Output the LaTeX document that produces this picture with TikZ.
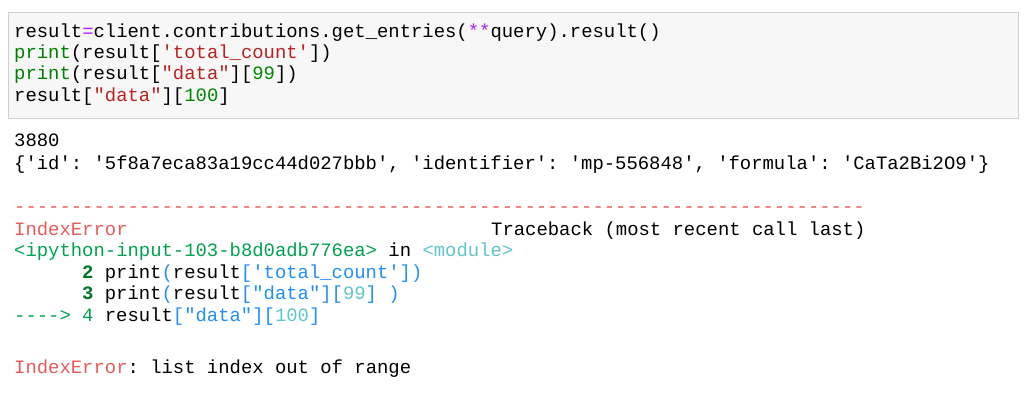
\documentclass[tikz,border=0pt]{standalone}
\usepackage{fontspec}
\setmonofont{Liberation Mono}
\definecolor{kwgreen}{HTML}{008000}
\definecolor{strred}{HTML}{BA2121}
\definecolor{oppurple}{HTML}{AA22FF}
\definecolor{numgreen}{HTML}{008800}
\definecolor{ansired}{HTML}{E75C58}
\definecolor{ansigreen}{HTML}{00A250}
\definecolor{ansidkgreen}{HTML}{007427}
\definecolor{ansicyan}{HTML}{60C6C8}
\definecolor{ansiblue}{HTML}{208FFB}
\newcommand{\kw}[1]{\textcolor{kwgreen}{#1}}
\newcommand{\str}[1]{\textcolor{strred}{#1}}
\newcommand{\tb}[1]{\textcolor{ansiblue}{#1}}
\newcommand{\tc}[1]{\textcolor{ansicyan}{#1}}
\tikzset{
  line/.style={anchor=base west,inner sep=0pt,font=\ttfamily\fontsize{18.9}{21}\selectfont},
  every picture/.style={x=1pt,y=-1pt},
}
\begin{document}
\begin{tikzpicture}
  \useasboundingbox[fill=white] (0,0) rectangle (1024,401);
  % input cell
  \draw[fill={rgb,255:red,247;green,247;blue,247},draw={rgb,255:red,207;green,207;blue,207}] (8,12) rectangle (1018,118);
  \node[line] (in1) at (14,38) {result\textcolor{oppurple}{=}client.contributions.get\_entries(\textcolor{oppurple}{**}query).result()};
  \node[line] (in2) at (14,59) {\kw{print}(result[\str{'total\_count'}])};
  \node[line] (in3) at (14,80) {\kw{print}(result[\str{"data"}][\textcolor{numgreen}{99}])};
  \node[line] (in4) at (14,102) {result[\str{"data"}][\textcolor{numgreen}{100}]};
  % output
  \node[line] (out1) at (14,146) {3880};
  \node[line] (out2) at (14,169) {\{'id': '5f8a7eca83a19cc44d027bbb', 'identifier': 'mp-556848', 'formula': 'CaTa2Bi2O9'\}};
  \node[line] (dash) at (14,212) {\textcolor{ansired}{---------------------------------------------------------------------------}};
  \node[line] (err) at (14,235) {\textcolor{ansired}{IndexError}};
  \node[line] (tback) at (491,235) {Traceback (most recent call last)};
  \node[line] (src) at (14,256) {\textcolor{ansigreen}{<ipython-input-103-b8d0adb776ea>} in \tc{<module>}};
  \node[line] (tl2) at (82,278) {\textcolor{ansidkgreen}{\bfseries 2} print\tb{(}result\tb{['total\_count'])}};
  \node[line] (tl3) at (82,299) {\textcolor{ansidkgreen}{\bfseries 3} print\tb{(}result\tb{["data"][}\tc{99}\tb{] )}};
  \node[line] (arrow) at (14,321) {\textcolor{ansigreen}{---->}};
  \node[line] (tl4) at (82,321) {\textcolor{ansigreen}{4} result\tb{["data"][}\tc{100}\tb{]}};
  \node[line] (msg) at (14,373) {\textcolor{ansired}{IndexError}: list index out of range};
\end{tikzpicture}
\end{document}
